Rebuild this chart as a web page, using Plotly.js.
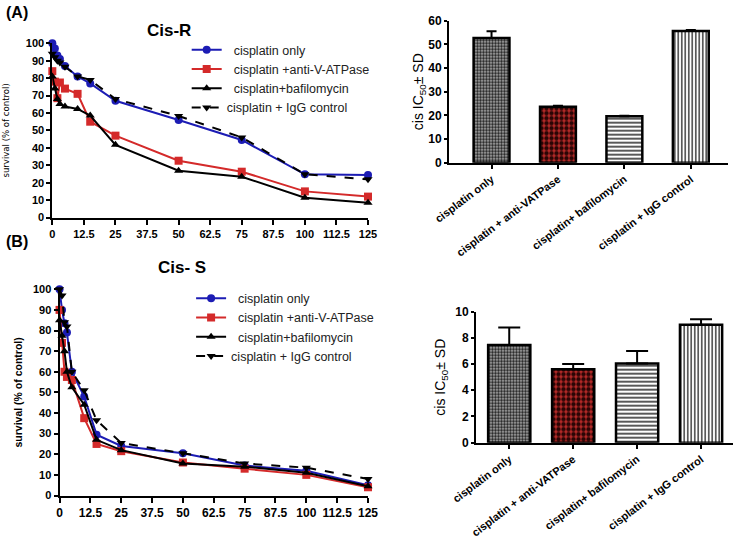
<!DOCTYPE html>
<html>
<head>
<meta charset="utf-8">
<script src="https://cdn.plot.ly/plotly-3.0.1.min.js"></script>
<style>html,body{margin:0;padding:0;background:#fff}#chart{width:735px;height:540px}</style>
</head>
<body>
<div id="chart"></div>
<script>
// ---- data ----
const doses = [0, 1, 2, 3, 5, 10, 15, 25, 50, 75, 100, 125];
const xTicks = [0, 12.5, 25, 37.5, 50, 62.5, 75, 87.5, 100, 112.5, 125];
const seriesNames = ["  cisplatin only", "  cisplatin +anti-V-ATPase", "  cisplatin+bafilomycin", "cisplatin + IgG control"];

// Cis-R survival (% of control)
const rOnly = [100, 97, 93, 91, 87, 81, 77, 67, 56, 44.5, 24.8, 24.4];
const rAnti = [84, 78, 68.5, 77.5, 74, 71, 55, 47, 32.6, 26.3, 15, 12];
const rBaf  = [81, 74, 68, 65.2, 63.7, 62.3, 58.5, 41.7, 26.9, 23.4, 11.4, 8.5];
const rIgG  = [94, 92, 90, 89, 86.5, 81, 79, 68, 58.3, 46, 24.8, 21.9];

// Cis-S survival (% of control)
const sOnly = [100, 90, 83.5, 79, 60, 48, 29.5, 24, 20.5, 14.5, 12, 5];
const sAnti = [90, 74, 60, 57.5, 56, 37.5, 25, 21.5, 16, 13, 10, 4];
const sBaf  = [85, 77.5, 70, 60, 52.5, 44, 27, 22, 15.5, 14, 11, 4.5];
const sIgG  = [100, 97, 84, 82, 60, 51, 36.5, 25.5, 20.5, 15.5, 13.5, 8];

// IC50 bars
const barCats = ["cisplatin only", "cisplatin + anti-VATPase", "cisplatin+ bafilomycin", "cisplatin + IgG control"];
const icR = [52.7, 23.6, 19.6, 55.6];
const sdR = [2.8, 0.5, 0.2, 0.5];
const icS = [7.45, 5.6, 6.05, 9.0];
const sdS = [1.35, 0.4, 0.95, 0.42];

// ---- styles ----
const FONT = "Liberation Sans, Arial, sans-serif";
const lineStyles = [
  {color: "#1c1cb4", symbol: "circle", dash: "solid"},
  {color: "#d42a2a", symbol: "square", dash: "solid"},
  {color: "#000000", symbol: "triangle-up", dash: "solid"},
  {color: "#000000", symbol: "triangle-down", dash: "dash"}
];

function lineTraces(ys, xa, ya, legend) {
  return ys.map((y, i) => ({
    type: "scatter", mode: "lines+markers", x: doses, y: y,
    xaxis: xa, yaxis: ya, name: seriesNames[i], legend: legend,
    line: {color: lineStyles[i].color, width: 2, dash: lineStyles[i].dash},
    marker: {color: lineStyles[i].color, symbol: lineStyles[i].symbol, size: 8},
    cliponaxis: false
  }));
}

const pattern = {
  shape: [".", ".", "-", "|"],
  fgcolor: ["#1e1e1e", "#2a0505", "#111111", "#111111"],
  bgcolor: ["#bdbdbd", "#b82a28", "#ffffff", "#ffffff"],
  size: [3, 5, 4, 3.5],
  solidity: [0.6, 0.6, 0.35, 0.35],
  fillmode: "replace"
};

function barTrace(vals, sds, xa, ya, capw, w) {
  return {
    type: "bar", x: barCats, y: vals, xaxis: xa, yaxis: ya, showlegend: false,
    width: w,
    marker: {color: "#ffffff", line: {color: "#000", width: 2.5}, pattern: pattern},
    error_y: {type: "data", array: sds, arrayminus: sds.map(() => 0), symmetric: false,
              color: "#000", thickness: 2, width: capw}
  };
}

const data = [
  ...lineTraces([rOnly, rAnti, rBaf, rIgG], "x", "y", "legend"),
  ...lineTraces([sOnly, sAnti, sBaf, sIgG], "x2", "y2", "legend2"),
  barTrace(icR, sdR, "x3", "y3", 5, 0.54),
  barTrace(icS, sdS, "x4", "y4", 11, 0.66)
];

const boldTick = (s) => ({family: FONT, size: s, color: "#000", weight: "bold"});
function lineX(domain, anchor, fs) {
  return {domain: domain, anchor: anchor, range: [0, 125], tickvals: xTicks,
    ticktext: xTicks.map(String), showline: true, linecolor: "#000", linewidth: 2,
    ticks: "outside", ticklen: 5, tickwidth: 2, tickcolor: "#000",
    showgrid: false, zeroline: false, tickfont: boldTick(fs)};
}
function lineY(domain, anchor, title, tfont, standoff) {
  return {domain: domain, anchor: anchor, range: [0, 100], dtick: 10,
    showline: true, linecolor: "#000", linewidth: 2,
    ticks: "outside", ticklen: 4, tickwidth: 2, tickcolor: "#000",
    showgrid: false, zeroline: false, tickfont: boldTick(11),
    title: {text: title, font: tfont, standoff: standoff}};
}
function barX(domain, anchor, range) {
  return {domain: domain, anchor: anchor, type: "category", tickangle: -37, range: range,
    showline: true, linecolor: "#000", linewidth: 2,
    ticks: "outside", ticklen: 4, tickwidth: 2, tickcolor: "#000",
    showgrid: false, zeroline: false, tickfont: boldTick(11)};
}
function barY(domain, anchor, range, dtick, standoff) {
  return {domain: domain, anchor: anchor, range: range, dtick: dtick,
    showline: true, linecolor: "#000", linewidth: 2,
    ticks: "outside", ticklen: 3, tickwidth: 2, tickcolor: "#000",
    showgrid: false, zeroline: false, tickfont: boldTick(12),
    title: {text: "cis IC<sub>50</sub>\u00b1 SD", font: {family: FONT, size: 14, color: "#000"}, standoff: standoff}};
}

const legendBase = {bgcolor: "rgba(0,0,0,0)", font: {family: FONT, size: 12.5, color: "#222"},
  xanchor: "left", yanchor: "top", itemwidth: 30, tracegroupgap: 0};

const layout = {
  width: 735, height: 540, margin: {l: 0, r: 0, t: 0, b: 0},
  paper_bgcolor: "#fff", plot_bgcolor: "#fff",
  font: {family: FONT, color: "#000"},
  showlegend: true,
  xaxis: lineX([0.0712, 0.5007], "y", 11),
  yaxis: lineY([0.5972, 0.9198], "x", "survival (% of control)",
    {family: "Liberation Sans Narrow, DejaVu Sans Condensed, sans-serif", size: 9.5, color: "#000"}, 14),
  xaxis2: lineX([0.0810, 0.5007], "y2", 12),
  yaxis2: lineY([0.0824, 0.4643], "x2", "<b>survival (% of control)</b>",
    {family: FONT, size: 10.5, color: "#000"}, 8),
  xaxis3: barX([0.6109, 0.9905], "y3", [-0.64, 3.56]),
  yaxis3: barY([0.6987, 0.9617], "x3", [0, 60], 10, 0),
  xaxis4: barX([0.6476, 0.9973], "y4", [-0.52, 3.5]),
  yaxis4: barY([0.1802, 0.4228], "x4", [0, 10], 2, 6),
  legend: Object.assign({}, legendBase, {x: 0.254, y: 0.935}),
  legend2: Object.assign({}, legendBase, {x: 0.26, y: 0.475}),
  annotations: [
    {text: "<b>(A)</b>", xref: "paper", yref: "paper", x: 0.005, y: 1 - 12/540, xanchor: "left", yanchor: "middle", showarrow: false, font: {family: FONT, size: 16, color: "#000"}},
    {text: "<b>(B)</b>", xref: "paper", yref: "paper", x: 0.005, y: 1 - 241/540, xanchor: "left", yanchor: "middle", showarrow: false, font: {family: FONT, size: 16, color: "#000"}},
    {text: "<b>Cis-R</b>", xref: "paper", yref: "paper", x: 169/735, y: 1 - 30/540, xanchor: "center", yanchor: "middle", showarrow: false, font: {family: FONT, size: 17, color: "#000"}},
    {text: "<b>Cis- S</b>", xref: "paper", yref: "paper", x: 182/735, y: 1 - 268/540, xanchor: "center", yanchor: "middle", showarrow: false, font: {family: FONT, size: 17, color: "#000"}}
  ]
};

Plotly.newPlot("chart", data, layout, {displayModeBar: false, staticPlot: true});
</script>
</body>
</html>
